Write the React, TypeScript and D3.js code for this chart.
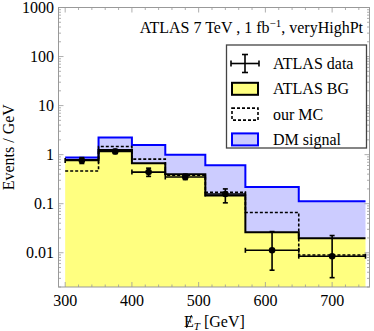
import React from "react";
import * as d3 from "d3";

// bins in missing E_T (GeV)
const binEdges = [300, 350, 400, 450, 510, 570, 650, 750];
// events / GeV
const atlasBg = [0.78, 1.24, 0.67, 0.4, 0.146, 0.026, 0.0198];
const ourMc = [0.465, 1.46, 0.81, 0.38, 0.17, 0.066, 0.009];
const dmTotal = [0.877, 2.24, 1.58, 0.99, 0.61, 0.22, 0.112]; // BG + DM signal
const dataValues = [0.76, 1.16, 0.44, 0.35, 0.158, 0.0112, 0.0085];
const dataLow = [0.66, 1.05, 0.36, 0.31, 0.104, 0.0044, 0.0031];
const dataHigh = [0.87, 1.28, 0.53, 0.4, 0.2, 0.027, 0.0224];

const xTicks = [300, 400, 500, 600, 700];
const yTicks = [0.01, 0.1, 1, 10, 100, 1000];
const yTickLabels = ["0.01", "0.1", "1", "10", "100", "1000"];
const legendLabels = ["ATLAS data", "ATLAS BG", "our MC", "DM signal"];

const W = 374;
const H = 331;
const font = "'Liberation Serif', 'Times New Roman', serif";

const x = d3.scaleLinear().domain([290, 756]).range([58.5, 369.5]);
const y = d3.scaleLog().domain([0.002, 1000]).range([287, 7.5]);

const steps = (vals: number[]): [number, number][] =>
  binEdges.map((e, i) => [e, vals[Math.min(i, vals.length - 1)]]);

const line = d3
  .line<[number, number]>()
  .x((d) => x(d[0]))
  .y((d) => y(d[1]))
  .curve(d3.curveStepAfter);

const App = () => {
  const [x0, x1] = x.range();
  const [yb, yt] = y.range();

  // yellow area under ATLAS BG
  const bgArea = d3
    .area<[number, number]>()
    .x((d) => x(d[0]))
    .y0(yb)
    .y1((d) => y(d[1]))
    .curve(d3.curveStepAfter)(steps(atlasBg));

  // lavender band between BG and BG+signal
  const bgPts = steps(atlasBg);
  const dmArea = d3
    .area<[number, number]>()
    .x((d) => x(d[0]))
    .y0((d, i) => y(bgPts[i][1]))
    .y1((d) => y(d[1]))
    .curve(d3.curveStepAfter)(steps(dmTotal));

  const xMinor = d3.range(300, 756, 20).filter((v) => v % 100 !== 0);
  const yMinor: number[] = [];
  [-3, -2, -1, 0, 1, 2].forEach((k) => {
    for (let m = 2; m <= 9; m++) {
      const v = m * Math.pow(10, k);
      if (v >= 0.002 && v <= 1000) yMinor.push(v);
    }
  });

  const frame = "#999";
  const centers = binEdges.slice(0, -1).map((e, i) => (e + binEdges[i + 1]) / 2);

  const lgX = 226.5;
  const lgY = 45;
  const rowY = (i: number) => 63.5 + i * 25.3;

  const titleX = 184; // start of the x-axis title

  return (
    <svg
      width={W}
      height={H}
      style={{ position: "absolute", left: 0, top: 0, background: "#fff" }}
      fontFamily={font}
    >
      <path d={bgArea || ""} fill="#FFFF80" />
      <path d={dmArea || ""} fill="#CCCCFF" />
      <path d={line(steps(dmTotal)) || ""} fill="none" stroke="#0000FF" strokeWidth={2} />
      <path d={line(steps(atlasBg)) || ""} fill="none" stroke="#000" strokeWidth={2} />
      <path
        d={line(steps(ourMc)) || ""}
        fill="none"
        stroke="#000"
        strokeWidth={1.6}
        strokeDasharray="3,2"
      />

      {/* data points */}
      {dataValues.map((v, i) => {
        const cx = x(centers[i]);
        const cy = y(v);
        const xl = x(binEdges[i]);
        const xr = x(binEdges[i + 1]);
        const yl = y(dataLow[i]);
        const yh = y(dataHigh[i]);
        return (
          <g key={i} stroke="#000" strokeWidth={1.6}>
            <line x1={xl} x2={xr} y1={cy} y2={cy} />
            <line x1={xl} x2={xl} y1={cy - 2.5} y2={cy + 2.5} />
            <line x1={xr} x2={xr} y1={cy - 2.5} y2={cy + 2.5} />
            <line x1={cx} x2={cx} y1={yl} y2={yh} />
            <line x1={cx - 2.5} x2={cx + 2.5} y1={yl} y2={yl} />
            <line x1={cx - 2.5} x2={cx + 2.5} y1={yh} y2={yh} />
            <circle cx={cx} cy={cy} r={3.3} fill="#000" stroke="none" />
          </g>
        );
      })}

      {/* frame */}
      <rect x={x0} y={yt} width={x1 - x0} height={yb - yt} fill="none" stroke={frame} strokeWidth={1} />
      <g stroke={frame} strokeWidth={0.8}>
        {xTicks.map((t) => (
          <g key={"xt" + t}>
            <line x1={x(t)} x2={x(t)} y1={yb} y2={yb - 5} />
            <line x1={x(t)} x2={x(t)} y1={yt} y2={yt + 5} />
          </g>
        ))}
        {xMinor.map((t) => (
          <g key={"xm" + t}>
            <line x1={x(t)} x2={x(t)} y1={yb} y2={yb - 2.5} />
            <line x1={x(t)} x2={x(t)} y1={yt} y2={yt + 2.5} />
          </g>
        ))}
        {yTicks.map((t) => (
          <g key={"yt" + t}>
            <line x1={x0} x2={x0 + 5} y1={y(t)} y2={y(t)} />
            <line x1={x1} x2={x1 - 5} y1={y(t)} y2={y(t)} />
          </g>
        ))}
        {yMinor.map((t) => (
          <g key={"ym" + t}>
            <line x1={x0} x2={x0 + 2.5} y1={y(t)} y2={y(t)} />
            <line x1={x1} x2={x1 - 2.5} y1={y(t)} y2={y(t)} />
          </g>
        ))}
      </g>

      {/* tick labels */}
      {xTicks.map((t) => (
        <text key={"xl" + t} x={x(t)} y={306} textAnchor="middle" fontSize={16}>
          {t}
        </text>
      ))}
      {yTicks.map((t, i) => (
        <text key={"yl" + t} x={54} y={y(t) + 5.5} textAnchor="end" fontSize={16}>
          {yTickLabels[i]}
        </text>
      ))}

      {/* axis titles: slashed E_T */}
      <text x={titleX} y={327} fontSize={16}>
        E
        <tspan fontStyle="italic" fontSize={11} dy={3}>
          T
        </tspan>
        <tspan dy={-3}> [GeV]</tspan>
      </text>
      <line x1={titleX + 2.5} y1={328} x2={titleX + 7.5} y2={315} stroke="#000" strokeWidth={0.9} />
      <text
        transform={`translate(14,${(yb + yt) / 2}) rotate(-90)`}
        textAnchor="middle"
        fontSize={16}
      >
        Events / GeV
      </text>

      {/* title */}
      <text x={363} y={33} textAnchor="end" fontSize={16}>
        ATLAS 7 TeV , 1 fb
        <tspan fontSize={11} dy={-6}>
          −1
        </tspan>
        <tspan dy={6}>, veryHighPt</tspan>
      </text>

      {/* legend */}
      <rect x={lgX} y={lgY} width={140} height={103} fill="#fff" stroke="#444" strokeWidth={1.3} />
      <g stroke="#000" strokeWidth={1.6}>
        <line x1={231} x2={259} y1={rowY(0)} y2={rowY(0)} />
        <line x1={231} x2={231} y1={rowY(0) - 3} y2={rowY(0) + 3} />
        <line x1={259} x2={259} y1={rowY(0) - 3} y2={rowY(0) + 3} />
        <line x1={245} x2={245} y1={rowY(0) - 9} y2={rowY(0) + 9} />
        <line x1={242} x2={248} y1={rowY(0) - 9} y2={rowY(0) - 9} />
        <line x1={242} x2={248} y1={rowY(0) + 9} y2={rowY(0) + 9} />
      </g>
      <rect x={232} y={rowY(1) - 6} width={26} height={12} fill="#FFFF80" stroke="#000" strokeWidth={2} />
      <rect
        x={232}
        y={rowY(2) - 6}
        width={26}
        height={12}
        fill="#fff"
        stroke="#000"
        strokeWidth={1.6}
        strokeDasharray="3,2"
      />
      <rect x={232} y={rowY(3) - 6} width={26} height={12} fill="#CCCCFF" stroke="#0000FF" strokeWidth={2} />
      {legendLabels.map((l, i) => (
        <text key={l} x={273} y={rowY(i) + 5.5} fontSize={16}>
          {l}
        </text>
      ))}
    </svg>
  );
};

export default App;
